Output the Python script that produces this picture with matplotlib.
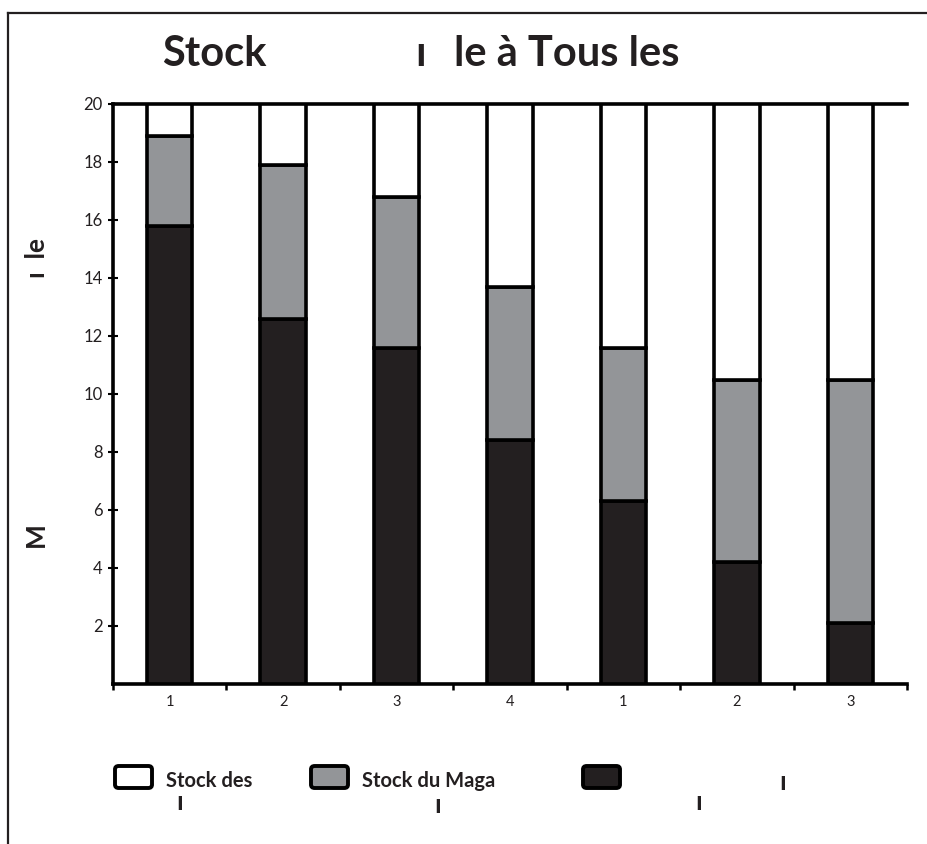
import matplotlib
matplotlib.use("Agg")
import matplotlib.pyplot as plt
from matplotlib.patches import FancyBboxPatch
from matplotlib.lines import Line2D
import numpy as np

# ---- data ----
categories = ["1", "2", "3", "4", "1", "2", "3"]
black_vals = [15.8, 12.6, 11.6, 8.4, 6.3, 4.2, 2.1]
totals = [18.9, 17.9, 16.8, 13.7, 11.6, 10.5, 10.5]
full = 20
grey_vals = [t - b for t, b in zip(totals, black_vals)]
white_vals = [full - t for t in totals]
y_ticks = [2, 4, 6, 8, 10, 12, 14, 16, 18, 20]
legend_labels = ["Stock des", "Stock du Maga", ""]

WHITE = "#ffffff"
GREY = "#939598"
BLACK = "#231f20"
TXT = "#231f20"

FONT = "Lato"
plt.rcParams["font.family"] = [FONT, "DejaVu Sans"]

W, H = 928, 844
fig = plt.figure(figsize=(W / 100, H / 100), dpi=100)

def fx(px):
    return px / W

def fy(py):
    return 1 - py / H

ax = fig.add_axes([fx(113), fy(684), fx(907) - fx(113), fy(104) - fy(684)])

x = np.arange(len(categories))
bw = 0.40
lw = 2.6
ax.bar(x, black_vals, width=bw, color=BLACK, edgecolor="black", linewidth=lw, zorder=3)
ax.bar(x, grey_vals, width=bw, bottom=black_vals, color=GREY, edgecolor="black", linewidth=lw, zorder=3)
ax.bar(x, white_vals, width=bw, bottom=totals, color=WHITE, edgecolor="black", linewidth=lw, zorder=3)

ax.set_xlim(-0.5, len(categories) - 0.5)
ax.set_ylim(0, full)

for s in ["left", "bottom", "top"]:
    ax.spines[s].set_linewidth(2.6)
    ax.spines[s].set_color("black")
ax.spines["right"].set_visible(False)

ax.set_yticks(y_ticks)
ax.set_yticklabels([str(v) for v in y_ticks], fontsize=12, color=TXT)
ax.tick_params(axis="y", direction="inout", length=7, width=1.5, pad=4)

ax.set_xticks(x)
ax.set_xticklabels(categories, fontsize=10.5, color=TXT)
ax.tick_params(axis="x", which="major", length=0, pad=8)
ax.set_xticks(np.arange(-0.5, len(categories)), minor=True)
ax.tick_params(axis="x", which="minor", direction="out", length=4, width=1.8)

# title fragments
fig.text(fx(162), fy(54), "Stock", fontsize=30, fontweight="bold", color=TXT,
         ha="left", va="center")
fig.text(fx(421), fy(54), "ı", fontsize=30, fontweight="bold", color=TXT,
         ha="center", va="center")
fig.text(fx(454), fy(54), "le à Tous les", fontsize=30, fontweight="bold", color=TXT,
         ha="left", va="center")

# y label fragments
fig.text(fx(36), fy(535), "M", fontsize=19, fontweight="bold", rotation=90,
         color=TXT, ha="center", va="center")
fig.text(fx(37), fy(258), "ı  le", fontsize=19, fontweight="bold", rotation=90,
         color=TXT, ha="center", va="center")

# legend
leg_colors = [WHITE, GREY, BLACK]
leg_x = [115, 311, 583]
for lx, c, lab in zip(leg_x, leg_colors, legend_labels):
    p = FancyBboxPatch((fx(lx), fy(788)), fx(37), fy(766) - fy(788),
                       boxstyle="round,pad=0,rounding_size=0.004",
                       facecolor=c, edgecolor="black", linewidth=2.8,
                       transform=fig.transFigure, figure=fig)
    fig.patches.append(p)
    if lab:
        fig.text(fx(lx + 51), fy(781), lab, fontsize=14.5, fontweight="bold",
                 color=TXT, ha="left", va="center")
fig.text(fx(783), fy(782), "ı", fontsize=19, fontweight="bold", color=TXT,
         ha="center", va="center")
for mx, my in [(180, 802), (438, 805), (699, 802)]:
    fig.text(fx(mx), fy(my), "ı", fontsize=19, fontweight="bold", color=TXT,
             ha="center", va="center")

# outer frame (top and left edges)
fig.add_artist(Line2D([fx(8), 1.0], [fy(13), fy(13)], color=TXT, linewidth=1.6,
                      transform=fig.transFigure))
fig.add_artist(Line2D([fx(8), fx(8)], [fy(13), 0.0], color=TXT, linewidth=1.6,
                      transform=fig.transFigure))

fig.savefig("out.png", dpi=100)
